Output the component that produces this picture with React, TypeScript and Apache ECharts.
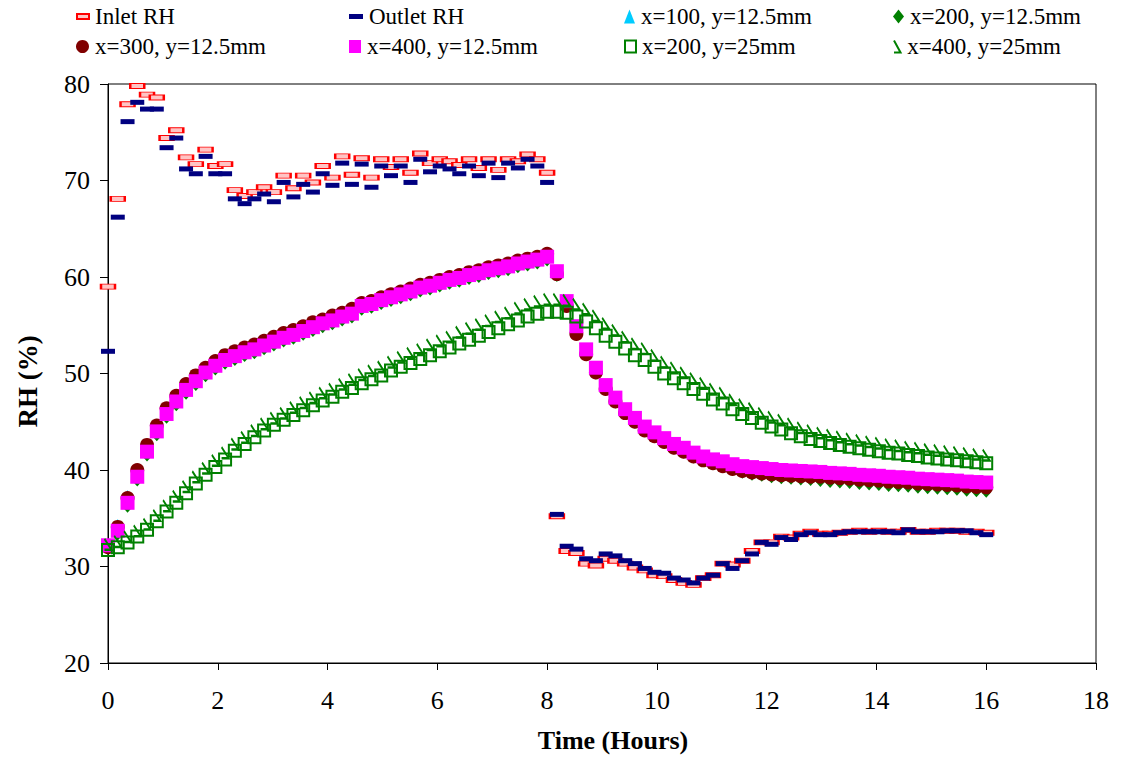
import React, { useEffect, useRef } from "react";
import * as echarts from "echarts";

// Time (hours), one reading about every 10.7 minutes
const TIME = [
  0, 0.178, 0.356, 0.533, 0.711, 0.889, 1.067, 1.244, 1.422, 1.6,
  1.778, 1.956, 2.133, 2.311, 2.489, 2.667, 2.844, 3.022, 3.2, 3.378,
  3.556, 3.733, 3.911, 4.089, 4.267, 4.444, 4.622, 4.8, 4.978, 5.156,
  5.333, 5.511, 5.689, 5.867, 6.044, 6.222, 6.4, 6.578, 6.756, 6.933,
  7.111, 7.289, 7.467, 7.644, 7.822, 8.0, 8.178, 8.356, 8.533, 8.711,
  8.889, 9.067, 9.244, 9.422, 9.6, 9.778, 9.956, 10.133, 10.311, 10.489,
  10.667, 10.844, 11.022, 11.2, 11.378, 11.556, 11.733, 11.911, 12.089, 12.267,
  12.444, 12.622, 12.8, 12.978, 13.156, 13.333, 13.511, 13.689, 13.867, 14.044,
  14.222, 14.4, 14.578, 14.756, 14.933, 15.111, 15.289, 15.467, 15.644, 15.822,
  16.0,
];

const INLET_RH = [
  59.0, 68.1, 77.9, 79.8, 78.9, 78.6, 74.4, 75.2, 72.4, 71.7,
  73.2, 71.5, 71.7, 69.0, 68.4, 68.8, 69.3, 68.8, 70.5, 69.2,
  70.5, 69.8, 71.5, 70.3, 72.5, 70.6, 72.3, 70.3, 72.2, 71.4,
  72.2, 70.8, 72.8, 71.8, 72.2, 72.0, 71.6, 72.2, 71.3, 72.2,
  71.1, 72.2, 72.0, 72.7, 72.2, 70.8, 35.2, 31.6, 31.4, 30.3,
  30.1, 30.8, 30.6, 30.3, 29.9, 29.6, 29.1, 29.0, 28.6, 28.3,
  28.1, 28.8, 29.1, 30.3, 30.2, 30.6, 31.6, 32.5, 32.5, 33.1,
  33.0, 33.4, 33.6, 33.4, 33.4, 33.5, 33.6, 33.7, 33.6, 33.7,
  33.6, 33.6, 33.8, 33.6, 33.6, 33.7, 33.7, 33.7, 33.6, 33.6,
  33.5,
];

const OUTLET_RH = [
  52.3, 66.2, 76.1, 78.1, 77.4, 77.4, 73.4, 74.4, 71.2, 70.7,
  72.5, 70.7, 70.7, 68.1, 67.6, 68.1, 68.6, 67.8, 69.8, 68.3,
  69.6, 68.8, 70.7, 69.5, 71.8, 69.6, 71.7, 69.3, 71.5, 70.5,
  71.5, 69.8, 72.2, 70.9, 71.5, 71.2, 70.7, 71.5, 70.5, 71.8,
  70.3, 71.8, 71.3, 72.2, 71.5, 69.8, 35.4, 32.1, 31.8, 30.8,
  30.6, 31.3, 31.1, 30.6, 30.3, 29.8, 29.4, 29.3, 28.8, 28.6,
  28.3, 28.8, 29.1, 30.3, 29.8, 30.6, 31.3, 32.5, 32.3, 33.0,
  32.8, 33.3, 33.5, 33.3, 33.3, 33.5, 33.6, 33.6, 33.6, 33.6,
  33.6, 33.5, 33.8, 33.6, 33.6, 33.6, 33.7, 33.7, 33.7, 33.5,
  33.3,
];

const X100_Y12 = [
  32.1, 34.4, 37.4, 40.2, 42.8, 44.8, 46.5, 47.8, 48.9, 49.8,
  50.6, 51.3, 51.8, 52.2, 52.6, 52.9, 53.3, 53.7, 54.1, 54.2,
  54.6, 55.0, 55.4, 55.7, 56.1, 56.4, 57.1, 57.4, 57.7, 58.0,
  58.3, 58.6, 59.0, 59.2, 59.5, 59.8, 60.0, 60.3, 60.5, 60.8,
  61.0, 61.2, 61.5, 61.7, 61.9, 62.2, 60.4, 57.3, 54.6, 52.2,
  50.3, 48.6, 47.3, 46.1, 45.2, 44.3, 43.7, 43.1, 42.5, 42.1,
  41.6, 41.2, 40.9, 40.7, 40.4, 40.2, 40.1, 40.0, 39.9, 39.8,
  39.75, 39.7, 39.65, 39.6, 39.5, 39.45, 39.4, 39.3, 39.25, 39.2,
  39.1, 39.05, 39.0, 38.9, 38.85, 38.8, 38.75, 38.7, 38.6, 38.55,
  38.5,
];

const X200_Y12 = [
  31.7, 33.2, 36.1, 38.8, 41.4, 43.5, 45.3, 46.6, 47.8, 48.7,
  49.6, 50.3, 50.9, 51.3, 51.7, 52.0, 52.4, 52.8, 53.2, 53.5,
  53.9, 54.3, 54.7, 55.0, 55.4, 55.7, 56.5, 56.7, 57.1, 57.4,
  57.7, 58.0, 58.4, 58.6, 58.9, 59.2, 59.4, 59.7, 59.9, 60.2,
  60.4, 60.6, 60.9, 61.1, 61.3, 61.6, 60.0, 56.8, 53.9, 51.8,
  49.9, 48.2, 46.9, 45.7, 44.8, 43.9, 43.3, 42.7, 42.1, 41.7,
  41.2, 40.8, 40.5, 40.2, 39.9, 39.6, 39.4, 39.3, 39.15, 39.05,
  39.0, 38.9, 38.85, 38.75, 38.65, 38.6, 38.55, 38.45, 38.4, 38.35,
  38.25, 38.2, 38.15, 38.05, 38.0, 37.95, 37.9, 37.85, 37.75, 37.7,
  37.65,
];

const X300_Y12 = [
  32.0, 34.1, 37.1, 40.0, 42.6, 44.6, 46.4, 47.7, 48.9, 49.8,
  50.6, 51.3, 51.9, 52.3, 52.7, 53.0, 53.4, 53.8, 54.2, 54.5,
  54.9, 55.3, 55.6, 56.0, 56.3, 56.7, 57.3, 57.5, 57.9, 58.2,
  58.5, 58.8, 59.2, 59.4, 59.7, 60.0, 60.2, 60.5, 60.7, 61.0,
  61.2, 61.4, 61.7, 61.9, 62.1, 62.4, 60.3, 57.0, 54.1, 52.0,
  50.1, 48.4, 47.1, 45.9, 45.0, 44.1, 43.5, 42.9, 42.3, 41.9,
  41.4, 41.0, 40.7, 40.4, 40.1, 39.9, 39.75, 39.65, 39.55, 39.45,
  39.4, 39.35, 39.3, 39.3, 39.2, 39.15, 39.1, 39.0, 38.95, 38.9,
  38.8, 38.75, 38.7, 38.6, 38.55, 38.5, 38.45, 38.4, 38.3, 38.25,
  38.2,
];

const X400_Y12 = [
  32.2, 33.7, 36.6, 39.3, 41.9, 44.0, 45.8, 47.1, 48.3, 49.2,
  50.1, 50.8, 51.4, 51.8, 52.2, 52.5, 52.9, 53.3, 53.7, 54.0,
  54.4, 54.8, 55.2, 55.5, 55.9, 56.2, 57.0, 57.2, 57.6, 57.9,
  58.2, 58.5, 58.9, 59.1, 59.4, 59.7, 59.9, 60.2, 60.4, 60.7,
  60.9, 61.1, 61.4, 61.6, 61.8, 62.1, 60.6, 57.5, 54.9, 52.5,
  50.6, 48.8, 47.5, 46.3, 45.4, 44.5, 43.9, 43.3, 42.7, 42.3,
  41.8, 41.4, 41.1, 40.9, 40.6, 40.4, 40.3, 40.2, 40.1, 40.0,
  39.95, 39.9, 39.85, 39.8, 39.7, 39.65, 39.6, 39.5, 39.45, 39.4,
  39.3, 39.25, 39.2, 39.1, 39.05, 39.0, 38.95, 38.9, 38.8, 38.75,
  38.7,
];

const X200_Y25 = [
  31.7, 32.0, 32.5, 33.1, 33.8, 34.7, 35.7, 36.6, 37.6, 38.6,
  39.5, 40.3, 41.1, 42.0, 42.7, 43.4, 44.1, 44.7, 45.2, 45.7,
  46.2, 46.7, 47.2, 47.6, 48.1, 48.5, 49.0, 49.4, 49.8, 50.3,
  50.7, 51.1, 51.5, 51.9, 52.3, 52.7, 53.1, 53.5, 53.9, 54.3,
  54.7, 55.1, 55.5, 55.9, 56.2, 56.4, 56.4, 56.3, 55.9, 55.4,
  54.7, 53.9, 53.3, 52.6, 51.9, 51.4, 50.7, 50.0, 49.5, 49.0,
  48.4, 47.9, 47.3, 46.9, 46.3, 45.8, 45.4, 44.9, 44.5, 44.2,
  43.8, 43.5, 43.2, 43.0, 42.8, 42.6, 42.4, 42.25, 42.1, 41.95,
  41.8, 41.7, 41.55, 41.45, 41.3, 41.2, 41.1, 41.0, 40.9, 40.8,
  40.7,
];

const X400_Y25 = [
  32.3, 32.6, 33.1, 33.7, 34.4, 35.3, 36.3, 37.3, 38.3, 39.3,
  40.2, 41.0, 41.8, 42.7, 43.4, 44.1, 44.8, 45.4, 45.9, 46.5,
  47.0, 47.5, 48.0, 48.4, 48.9, 49.4, 49.9, 50.3, 50.7, 51.2,
  51.7, 52.1, 52.5, 53.0, 53.4, 53.8, 54.3, 54.7, 55.1, 55.5,
  55.9, 56.3, 56.8, 57.2, 57.5, 57.7, 57.7, 57.6, 57.2, 56.7,
  56.0, 55.2, 54.5, 53.8, 53.1, 52.6, 51.9, 51.2, 50.6, 50.1,
  49.5, 49.0, 48.4, 48.0, 47.3, 46.8, 46.4, 45.9, 45.5, 45.2,
  44.8, 44.4, 44.1, 43.85, 43.65, 43.45, 43.25, 43.1, 42.95, 42.8,
  42.65, 42.55, 42.4, 42.3, 42.15, 42.05, 41.95, 41.85, 41.75, 41.65,
  41.55,
];

const NAMES = [
  "Inlet RH",
  "Outlet RH",
  "x=100, y=12.5mm",
  "x=200, y=12.5mm",
  "x=300, y=12.5mm",
  "x=400, y=12.5mm",
  "x=200, y=25mm",
  "x=400, y=25mm",
];

const X_TICKS = [0, 2, 4, 6, 8, 10, 12, 14, 16, 18];
const Y_TICKS = [20, 30, 40, 50, 60, 70, 80];

const FONT = "Liberation Serif";
const HOOK = "path://M0,0L6,11L0,11";

function pairs(vals: number[]) {
  return TIME.map((t, i) => [t, vals[i]]);
}

export default function App() {
  const ref = useRef<HTMLDivElement>(null);

  useEffect(() => {
    if (!ref.current) return;
    const chart = echarts.init(ref.current, undefined, { renderer: "svg" });

    const seriesDefs = [
      { name: NAMES[0], data: INLET_RH, symbol: "rect", size: [14, 5], color: "#ffc4c4", border: "#ff0000", bw: 1.5 },
      { name: NAMES[1], data: OUTLET_RH, symbol: "rect", size: [14, 5], color: "#000080", border: "#000080", bw: 0 },
      { name: NAMES[2], data: X100_Y12, symbol: "triangle", size: [10, 10], color: "#00ccff", border: "#00ccff", bw: 0 },
      { name: NAMES[3], data: X200_Y12, symbol: "diamond", size: [9, 10], color: "#008000", border: "#008000", bw: 0 },
      { name: NAMES[4], data: X300_Y12, symbol: "circle", size: 14, color: "#800000", border: "#800000", bw: 0 },
      { name: NAMES[5], data: X400_Y12, symbol: "rect", size: 14, color: "#ff00ff", border: "#ff00ff", bw: 0 },
      { name: NAMES[6], data: X200_Y25, symbol: "rect", size: 12, color: "rgba(255,255,255,0)", border: "#008000", bw: 2 },
      { name: NAMES[7], data: X400_Y25, symbol: HOOK, size: [7, 11], color: "rgba(255,255,255,0)", border: "#008000", bw: 2 },
    ];

    const legendPos = [
      { left: 76, top: 5, icon: "rect", w: 12, h: 5 },
      { left: 349, top: 5, icon: "rect", w: 14, h: 5 },
      { left: 624, top: 5, icon: "triangle", w: 11, h: 14 },
      { left: 893, top: 5, icon: "diamond", w: 11, h: 14 },
      { left: 76, top: 35, icon: "circle", w: 13, h: 14 },
      { left: 349, top: 35, icon: "rect", w: 12, h: 13 },
      { left: 624, top: 35, icon: "rect", w: 11, h: 12 },
      { left: 893, top: 35, icon: HOOK, w: 8, h: 12 },
    ];

    const option: any = {
      animation: false,
      backgroundColor: "#ffffff",
      textStyle: { fontFamily: FONT },
      grid: {
        left: 108,
        right: 26,
        top: 84,
        bottom: 98,
        show: true,
        borderColor: "#000",
        borderWidth: 1,
        backgroundColor: "transparent",
      },
      legend: legendPos.map((p, i) => ({
        data: [NAMES[i]],
        left: p.left,
        top: p.top,
        icon: p.icon,
        itemWidth: p.w,
        itemHeight: p.h,
        padding: 0,
        selectedMode: false,
        textStyle: { fontSize: 23, fontFamily: FONT, color: "#000", padding: [0, 0, 0, 1] },
      })),
      xAxis: {
        type: "value",
        min: X_TICKS[0],
        max: X_TICKS[X_TICKS.length - 1],
        interval: 2,
        name: "Time (Hours)",
        nameLocation: "middle",
        nameGap: 64,
        nameTextStyle: { fontSize: 26, fontWeight: "bold", fontFamily: FONT, color: "#000", padding: [0, 0, 0, 22] },
        axisLine: { show: true, lineStyle: { color: "#000", width: 1 } },
        axisTick: { show: true, inside: false, length: 7, lineStyle: { color: "#000" } },
        axisLabel: { fontSize: 26, color: "#000", fontFamily: FONT, margin: 24 },
        splitLine: { show: false },
      },
      yAxis: {
        type: "value",
        min: Y_TICKS[0],
        max: Y_TICKS[Y_TICKS.length - 1],
        interval: 10,
        name: "RH (%)",
        nameLocation: "middle",
        nameGap: 67,
        nameTextStyle: { fontSize: 27, fontWeight: "bold", fontFamily: FONT, color: "#000", padding: [0, 16, 0, 0] },
        axisLine: { show: true, lineStyle: { color: "#000", width: 1 } },
        axisTick: { show: true, inside: false, length: 8, lineStyle: { color: "#000" } },
        axisLabel: { fontSize: 26, color: "#000", fontFamily: FONT, margin: 18 },
        splitLine: { show: false },
      },
      series: seriesDefs.map((s) => ({
        type: "scatter",
        name: s.name,
        data: pairs(s.data),
        symbol: s.symbol,
        symbolSize: s.size,
        itemStyle: { color: s.color, borderColor: s.border, borderWidth: s.bw, opacity: 1 },
        emphasis: { disabled: true },
      })),
    };

    chart.setOption(option);
    return () => chart.dispose();
  }, []);

  return (
    <div
      ref={ref}
      style={{ position: "absolute", left: 0, top: 0, width: 1122, height: 761, background: "#fff" }}
    />
  );
}
